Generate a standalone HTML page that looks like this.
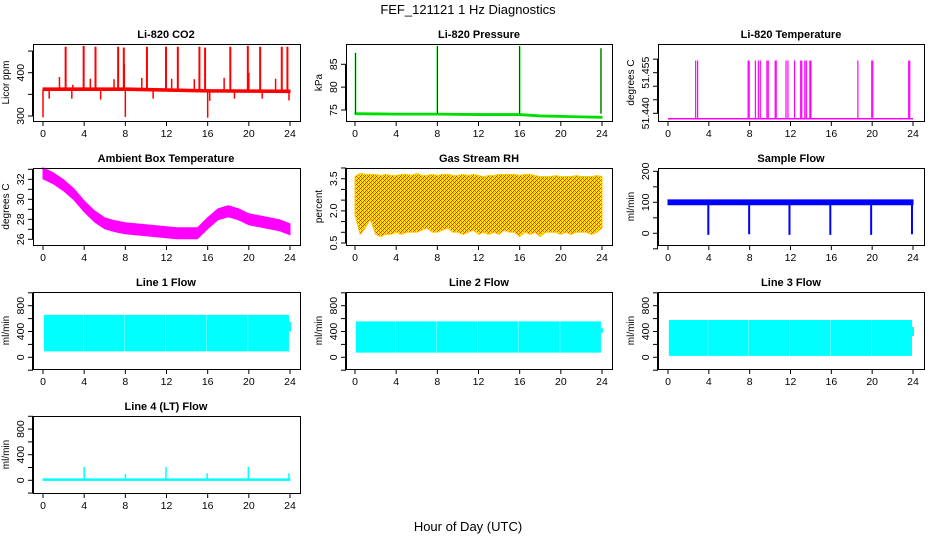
<!DOCTYPE html>
<html><head><meta charset="utf-8"><style>
html,body{margin:0;padding:0;background:#fff;overflow:hidden;}
svg{display:block;font-family:"Liberation Sans",sans-serif;}
</style></head><body>
<svg id="chart" width="936" height="540" viewBox="0 0 936 540" xmlns="http://www.w3.org/2000/svg">
<defs>
<pattern id="rhpat" width="4" height="4" patternUnits="userSpaceOnUse">
<rect width="4" height="4" fill="#ffee00"/>
<rect x="0" y="0" width="1" height="1" fill="#ff2200"/>
<rect x="2" y="2" width="1" height="1" fill="#ff2200"/>
<rect x="1" y="1" width="1" height="1" fill="#ff6600"/>
<rect x="3" y="3" width="1" height="1" fill="#ff6600"/>
<rect x="3" y="1" width="1" height="1" fill="#ff2200"/>
<rect x="1" y="3" width="1" height="1" fill="#ff2200"/>
</pattern>
</defs>
<text x="468" y="14" font-size="13" text-anchor="middle">FEF_121121  1 Hz Diagnostics</text>
<text x="468" y="531" font-size="13" text-anchor="middle">Hour of Day (UTC)</text>
</svg>
<script>
// ---- data ----
const hourTicks = [0,4,8,12,16,20,24];
// CO2
const co2Base = [[0,362],[8,362],[16,358],[24,357]];
const co2SpikeHours = [2.2,3.95,5.1,7.3,7.85,10.1,11.95,13.1,15.2,15.75,18.2,19.9,21.1,23.2,23.75];
const co2SpikeVals  = [460,462,460,460,458,460,460,460,460,458,460,462,460,460,460];
const co2MidHours = [1.6,2.9,4.6,6.9,9.6,12.5,14.7,17.6,22.6,7.9,20.0];
const co2MidVals  = [390,372,386,385,388,386,385,388,386,420,400];
const co2DownHours = [0.0,8.0,16.0,0.6,2.8,5.6,10.7,16.2,18.6,21.3,23.9];
const co2DownVals  = [297,298,296,340,340,338,340,335,340,340,336];
// Pressure
const presBaseHours = [0,4,8,12,16,18,20,22,24];
const presBaseVals  = [74.2,74.1,74.1,74.0,74.0,73.7,73.6,73.5,73.4];
const presSpikeHours = [0.05,8.0,16.0,23.9];
const presSpikeVals  = [87.5,89.0,89.0,88.5];
// Li-820 temperature
const tempBase = 51.438;
const tempSpikeHours = [2.71,2.9,7.85,7.95,8.56,8.85,9.04,9.69,9.82,10.5,10.6,11.56,11.75,12.4,13.0,13.1,13.4,13.55,13.9,14.0,18.6,19.96,20.06,23.58,23.68];
const tempSpikeTop = 51.4595;
// Ambient box temperature
const ambHours = [0,1,2,3,4,5,6,7,8,9,10,11,12,13,14,15,16,17,18,19,20,21,22,23,24];
const ambVals  = [32.6,32.1,31.4,30.5,29.3,28.3,27.6,27.3,27.1,27.0,26.9,26.8,26.7,26.6,26.6,26.6,27.6,28.5,28.8,28.5,28.0,27.8,27.6,27.4,27.0];
// Gas stream RH
const rhHours = [0,0.5,1,1.5,2,2.5,3,3.5,4,4.5,5,5.5,6,6.5,7,7.5,8,8.5,9,9.5,10,10.5,11,11.5,12,12.5,13,13.5,14,14.5,15,15.5,16,16.5,17,17.5,18,18.5,19,19.5,20,20.5,21,21.5,22,22.5,23,23.5,24];
const rhTop    = [3.6,3.75,3.7,3.7,3.7,3.65,3.7,3.65,3.65,3.7,3.7,3.65,3.75,3.65,3.65,3.7,3.65,3.7,3.7,3.65,3.65,3.7,3.65,3.7,3.65,3.6,3.65,3.65,3.7,3.7,3.7,3.7,3.65,3.7,3.7,3.65,3.6,3.6,3.6,3.65,3.6,3.6,3.6,3.65,3.6,3.6,3.6,3.65,3.6];
const rhLow    = [1.8,0.9,1.2,1.6,0.9,0.8,0.9,0.9,1.0,0.9,1.0,1.0,1.0,1.1,1.2,1.0,1.0,1.1,1.2,1.0,1.0,0.9,1.0,1.1,0.9,1.0,0.9,1.0,0.9,1.1,1.0,1.0,0.8,1.0,0.9,1.0,0.8,1.0,1.0,1.0,0.9,1.0,0.9,1.0,1.0,1.0,0.9,1.0,1.2];
// Sample flow
const sfLow = 92, sfHigh = 108;
const sfDipHours = [3.95,7.95,11.9,15.9,19.9,23.9];
const sfDipVals  = [-5,-3,-5,-5,-5,-3];
// Line flows
const flowGapHours = [3.9,7.9,11.9,15.9,19.9];
const line1Low = 100, line1High = 650;
const line2Low = 80,  line2High = 550;
const line3Low = 30,  line3High = 570;
const line4Base = 10;
const line4SpikeHours = [4.0,8.0,11.95,15.95,19.95,23.9];
const line4SpikeVals  = [210,100,210,110,210,110];

// ---- drawing ----
const svg = document.getElementById('chart');
const NS = 'http://www.w3.org/2000/svg';
function mk(tag, attrs, parent){
  const e = document.createElementNS(NS, tag);
  for (const k in attrs) e.setAttribute(k, attrs[k]);
  (parent||svg).appendChild(e); return e;
}
const cols = [{bx0:33,bx1:300,hx0:43,hx1:290,cx:166},{bx0:346,bx1:612,hx0:355,hx1:602,cx:479},{bx0:658,bx1:924,hx0:668,hx1:913,cx:791}];
function panel(name, col, row, title, ylab, va, ya, vb, yb, ticks, labels){
  const c = cols[col]; const off = row*124;
  const g = mk('g', {});
  
  
  const P = {g:g, c:c, y0:44+off, y1:121+off,
    x: h => c.hx0 + h*(c.hx1-c.hx0)/24,
    y: v => ya + (v-va)*(yb-ya)/(vb-va)};
  const t = mk('text', {x:c.cx, y:P.y0-6, 'font-size':11, 'font-weight':'bold', 'text-anchor':'middle'}, g);
  t.textContent = title;
  
  
  const yl = mk('text', {transform:`translate(${c.bx0-24},${(P.y0+P.y1)/2}) rotate(-90)`, 'font-size':10, 'text-anchor':'middle'}, g);
  yl.textContent = ylab;
  
  
  const ty = ticks.map(P.y);
  mk('line', {x1:c.bx0-0.5, x2:c.bx0-0.5, y1:Math.min(...ty), y2:Math.max(...ty), stroke:'#000'}, g);
  ticks.forEach(v=>{
    const yy = P.y(v);
    mk('line', {x1:c.bx0-5, x2:c.bx0, y1:yy, y2:yy, stroke:'#000'}, g);
  });
  labels.forEach(s=>{
    const yy = P.y(parseFloat(s));
    const lt = mk('text', {transform:`translate(${c.bx0-9},${yy}) rotate(-90)`, 'font-size':10.5, 'text-anchor':'middle'}, g);
    lt.textContent = s;
    
    
  });
  mk('line', {x1:P.x(0), x2:P.x(24), y1:P.y1+0.5, y2:P.y1+0.5, stroke:'#000'}, g);
  hourTicks.forEach(h=>{
    const xx = P.x(h);
    mk('line', {x1:xx, x2:xx, y1:P.y1, y2:P.y1+5, stroke:'#000'}, g);
    const xt = mk('text', {x:xx, y:P.y1+16, 'font-size':10.5, 'text-anchor':'middle'}, g);
    xt.textContent = String(h);
    
    
  });
  P.plot = mk('g', {}, g);
  P.finish = () => {
    const b = mk('rect', {x:c.bx0+0.5, y:P.y0+0.5, width:c.bx1-c.bx0, height:P.y1-P.y0, fill:'none', stroke:'#000'}, g);
    
    
  };
  return P;
}
function vline(P, h, v1, v2, color, w, nm){
  const l = mk('line', {x1:P.x(h), x2:P.x(h), y1:P.y(v1), y2:P.y(v2), stroke:color, 'stroke-width':w||1}, P.plot);
  
  
}
function band(P, hs, lo, hi, color, nm, fill){
  let pts = hs.map((h,i)=>P.x(h)+','+P.y(hi[i]));
  pts = pts.concat(hs.slice().reverse().map((h,j)=>{const i=hs.length-1-j; return P.x(h)+','+P.y(lo[i]);}));
  const p = mk('polygon', {points:pts.join(' '), fill:fill||color, stroke:color, 'stroke-width':1}, P.plot);
  
  
}

// CO2
let P = panel('co2-panel',0,0,'Li-820 CO2','Licor ppm',300,116,400,72.7,[300,350,400,450],['300','400']);
band(P, co2Base.map(d=>d[0]), co2Base.map(d=>d[1]-3), co2Base.map(d=>d[1]+3), '#ff0000', 'co2-baseline');
co2SpikeHours.forEach((h,i)=>vline(P,h,360,co2SpikeVals[i],'#ff0000',2,'co2-spike'));
co2MidHours.forEach((h,i)=>vline(P,h,360,co2MidVals[i],'#ff0000',1.5,'co2-spike'));
co2DownHours.forEach((h,i)=>vline(P,h,360,co2DownVals[i],'#ff0000',1.5,'co2-dip'));
P.finish();

// Pressure
P = panel('pressure-panel',1,0,'Li-820 Pressure','kPa',75,110,85,64.3,[75,80,85],['75','80','85']);
band(P, presBaseHours, presBaseVals.map(v=>v-0.2), presBaseVals.map(v=>v+0.2), '#00dd00', 'pressure-line');
presSpikeHours.forEach((h,i)=>vline(P,h,74.2,presSpikeVals[i],'#00dd00',1.5,'pressure-spike'));
presSpikeHours.forEach((h,i)=>vline(P,h,74.2,presSpikeVals[i],'#000',0.6,'pressure-spike-dots'));
P.finish();

// Li-820 temperature
P = panel('li820-temp-panel',2,0,'Li-820 Temperature','degrees C',51.440,113.3,51.455,72.7,[51.440,51.445,51.450,51.455,51.460],['51.440','51.455']);
{const l=mk('line',{x1:P.x(0),x2:P.x(24),y1:P.y(tempBase),y2:P.y(tempBase),stroke:'#ff00ff','stroke-width':1.5},P.plot);

}
tempSpikeHours.forEach(h=>vline(P,h,tempBase,tempSpikeTop,'#ff00ff',1.2,'temp-spike'));
P.finish();

// Ambient
P = panel('ambient-temp-panel',0,1,'Ambient Box Temperature','degrees C',26,239.3,32,179.3,[26,27,28,29,30,31,32,33],['26','28','30','32']);
band(P, ambHours, ambVals.map(v=>v-0.55), ambVals.map(v=>v+0.55), '#ff00ff', 'ambient-temp-band');
P.finish();

// Gas RH
P = panel('gas-rh-panel',1,1,'Gas Stream RH','percent',0.5,243,3.5,178.7,[0.5,1,1.5,2,2.5,3,3.5,4],['0.5','2.0','3.5']);
band(P, rhHours, rhLow, rhTop, '#ffcc00', 'rh-band', 'url(#rhpat)');
P.finish();

// Sample flow
P = panel('sample-flow-panel',2,1,'Sample Flow','ml/min',0,233.3,100,202.3,[-50,0,50,100,150,200],['0','100','200']);
band(P,[0,24],[sfLow,sfLow],[sfHigh,sfHigh],'#0000ff','sample-flow-band');
sfDipHours.forEach((h,i)=>vline(P,h,sfLow,sfDipVals[i],'#0000ff',2,'sample-flow-dip'));
P.finish();

function flowPanel(name,col,row,title,lo,hi,color){
  const Q = panel(name,col,row,title,'ml/min',0,357.3+(row-2)*124,400,331.5+(row-2)*124,[-200,0,200,400,600,800,1000],['0','400','800']);
  const edges = [0.05].concat(flowGapHours).concat([23.9]);
  for (let i=0;i<edges.length-1;i++){
    const a = edges[i]+0.08, b = edges[i+1]-0.05;
    band(Q,[a,b],[lo,lo],[hi,hi],color,'flow-segment');
  }
  vline(Q,24,lo+300,hi-100,color,2,'flow-tail');
  Q.finish();
}
flowPanel('line1-flow-panel',0,2,'Line 1 Flow',line1Low,line1High,'#00ffff');
flowPanel('line2-flow-panel',1,2,'Line 2 Flow',line2Low,line2High,'#00ffff');
flowPanel('line3-flow-panel',2,2,'Line 3 Flow',line3Low,line3High,'#00ffff');

// Line 4
P = panel('line4-flow-panel',0,3,'Line 4 (LT) Flow','ml/min',0,480.3,400,454.7,[-200,0,200,400,600,800,1000],['0','400','800']);
band(P,[0,24],[line4Base-12,line4Base-12],[line4Base+12,line4Base+12],'#00ffff','line4-baseline');
line4SpikeHours.forEach((h,i)=>vline(P,h,line4Base,line4SpikeVals[i],'#00ffff',1.5,'line4-spike'));
P.finish();
</script>
</body></html>
